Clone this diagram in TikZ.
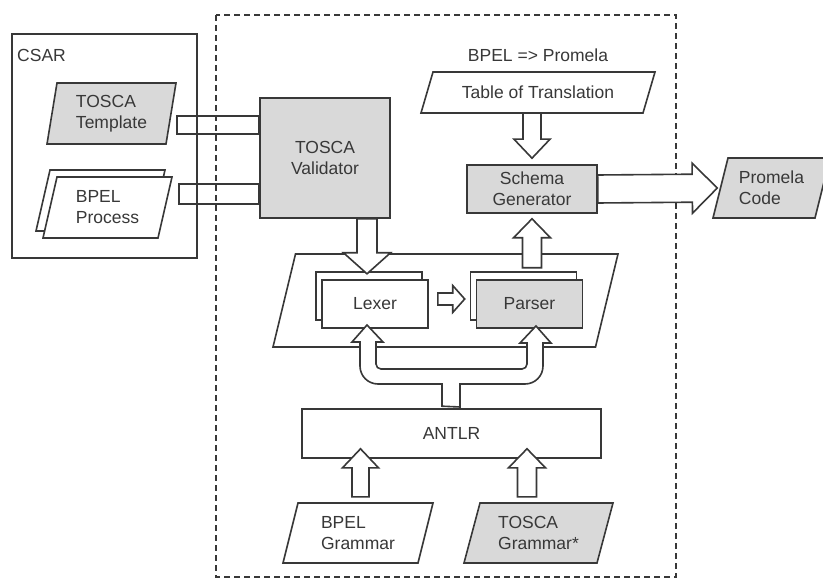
\documentclass[tikz,border=0pt]{standalone}
\usepackage{fontspec}
\setmainfont{Liberation Sans}
\usepackage{xcolor}
\usetikzlibrary{positioning,calc}

\definecolor{ink}{HTML}{383838}
\definecolor{boxgray}{HTML}{D9D9D9}

% hollow block arrow: start, tip, shaft half width, head half width, head length
\newcommand{\blockarrow}[5]{%
  \draw[barrow] let \p1=(#1), \p2=(#2), \p3=($(\p2)!#5pt!(\p1)$) in
    ($(\p1)!#3pt!90:(\p2)$) -- ($(\p3)!#3pt!90:(\p2)$) -- ($(\p3)!#4pt!90:(\p2)$) -- (\p2)
    -- ($(\p3)!#4pt!-90:(\p2)$) -- ($(\p3)!#3pt!-90:(\p2)$) -- ($(\p1)!#3pt!-90:(\p2)$) -- cycle;}

% slanted data box: [style] name, centre, width, height, slant, text
\newcommand{\paranode}[7][]{%
  \draw[plain,#1] ($(#3)+(-#4/2+#6,-#5/2)$) -- ++(#4-#6,0) -- ++(-#6,#5) -- ++(-#4+#6,0) -- cycle;
  \node[align=left, inner sep=0pt, minimum width=#4pt-#6pt, minimum height=#5pt] (#2) at (#3) {#7};}

\tikzset{
  every node/.style={font=\fontsize{17.5}{21}\selectfont, text=ink},
  plain/.style={draw=ink, line width=1.6pt, fill=white, inner sep=0pt},
  shaded/.style={fill=boxgray},
  barrow/.style={draw=ink, line width=1.6pt, fill=white, line join=miter},
  bar/.style={draw=ink, line width=1.6pt},
}

\begin{document}
\begin{tikzpicture}[x=1pt, y=-1pt]
\useasboundingbox (0,0) rectangle (823,580);

% tool boundary
\draw[ink, line width=1.8pt, dash pattern=on 6pt off 4pt] (216,15) rectangle (676,577);

% CSAR archive
\draw[ink, line width=1.6pt] (12,34) rectangle (197,258);
\node[anchor=west, inner sep=0pt] (csar) at (17,55) {CSAR};
\paranode[shaded]{tmpl}{111.5,113.5}{129}{61}{10}{TOSCA\\Template}
\paranode{procback}{100.5,200.5}{129}{61}{14}{}
\paranode{proc}{107.5,207.5}{129}{61}{14}{BPEL\\Process}

% validator and generator
\node[plain, shaded, minimum width=130pt, minimum height=120pt, align=center] (val) at (325,158) {TOSCA\\Validator};
\node (map) at (538,55) {BPEL => Promela};
\paranode{table}{538,92.5}{234}{41}{12}{Table of Translation}
\node[plain, shaded, minimum width=130pt, minimum height=48pt, align=center] (gen) at (532,189) {Schema\\Generator};
\paranode[shaded]{code}{771.5,188}{117}{60}{15}{Promela\\Code}

% front end
\paranode{frontend}{445.5,300.5}{345}{93}{22.5}{}
\node[plain, minimum width=106pt, minimum height=48pt] (lexback) at (369,296) {};
\node[plain, minimum width=106pt, minimum height=48pt] (lexer) at (375,304) {Lexer};
\node[plain, minimum width=106pt, minimum height=48pt] (parback) at (523.5,296) {};
\node[plain, shaded, minimum width=106pt, minimum height=48pt] (parser) at (529.5,304) {Parser};

% ANTLR and grammars
\node[plain, minimum width=299pt, minimum height=49pt] (antlr) at (451.5,433.5) {ANTLR};
\paranode{bgram}{358,533}{150}{60}{15}{BPEL\\Grammar}
\paranode[shaded]{tgram}{538.5,533}{149}{60}{16}{TOSCA\\Grammar*}

% inputs into the validator
\draw[bar] ($(val.west)+(-82,-42)$) rectangle ($(val.west)+(0,-24)$);
\draw[bar] ($(val.west)+(-80,26)$) rectangle ($(val.west)+(0,46)$);

% block arrows
\blockarrow{$(val.south)+(42,0)$}{$(val.south)+(42,55)$}{10}{23.5}{21}
\blockarrow{gen.north |- table.south}{$(gen.north)+(0,-6)$}{9}{18}{19}
\blockarrow{$(gen.south)+(0,54)$}{$(gen.south)+(0,5)$}{9.5}{18.5}{19}
\blockarrow{gen.east}{$(code.west)+(-3,0)$}{14}{25}{25}
\blockarrow{$(lexer.east)+(9,-5)$}{$(parser.west)+(-11,-5)$}{6}{13.5}{12}
\blockarrow{$(bgram.north)+(2.5,-6)$}{$(antlr.south)+(-91,-10)$}{8.5}{18}{19}
\blockarrow{$(tgram.north)+(-11.5,-6)$}{$(antlr.south)+(75.5,-10)$}{9.5}{18.5}{19}

% ANTLR feeds lexer and parser
\draw[barrow] (antlr.north) ++(-9.5,-2) coordinate (split) -- (442,384) -- (378,384)
  .. controls (368,384) and (360,376) .. (360,366) -- (360,342) -- (352,342) -- (367,325)
  -- (383,342) -- (376,342) -- (376,364) .. controls (376,366.8) and (378.2,369) .. (381,369)
  -- (522,369) .. controls (524.8,369) and (527,366.8) .. (527,364) -- (527,343) -- (520,343)
  -- (536,326) -- (551,343) -- (543,343) -- (543,366) .. controls (543,376) and (535,384) .. (525,384)
  -- (460,384) -- (460,407) -- cycle;

\end{tikzpicture}
\end{document}
